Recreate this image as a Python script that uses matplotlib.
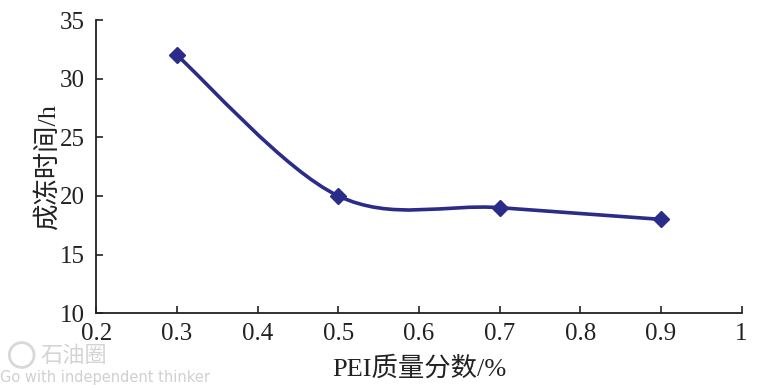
import matplotlib
matplotlib.use("Agg")
import matplotlib.pyplot as plt
from matplotlib.path import Path
from matplotlib.patches import PathPatch, Ellipse

# data
pei = [0.3, 0.5, 0.7, 0.9]
hours = [32, 20, 19, 18]
xticks = [0.2, 0.3, 0.4, 0.5, 0.6, 0.7, 0.8, 0.9, 1]
xticklabels = ['0.2', '0.3', '0.4', '0.5', '0.6', '0.7', '0.8', '0.9', '1']
yticks = [10, 15, 20, 25, 30, 35]

plt.rcParams['font.family'] = ['Liberation Serif', 'Noto Sans CJK SC']
navy = '#2b2b8a'
ink = '#222222'


def smooth_path(xs, ys):
    # excel-style smoothed line: cubic bezier segments through the points
    pts = list(zip(xs, ys))
    n = len(pts)
    verts = [pts[0]]
    codes = [Path.MOVETO]
    for i in range(n - 1):
        p0 = pts[i - 1] if i > 0 else pts[i]
        p1 = pts[i]
        p2 = pts[i + 1]
        p3 = pts[i + 2] if i + 2 < n else pts[i + 1]
        c1 = (p1[0] + (p2[0] - p0[0]) / 6, p1[1] + (p2[1] - p0[1]) / 6)
        c2 = (p2[0] - (p3[0] - p1[0]) / 6, p2[1] - (p3[1] - p1[1]) / 6)
        verts += [c1, c2, p2]
        codes += [Path.CURVE4] * 3
    return Path(verts, codes)


fig = plt.figure(figsize=(7.75, 3.88), dpi=100)
ax = fig.add_axes([0.1243, 0.193, 0.8326, 0.755])

ax.add_patch(PathPatch(smooth_path(pei, hours), facecolor='none',
                       edgecolor=navy, lw=2.6, zorder=2))
ax.plot(pei, hours, linestyle='none', marker='D', ms=8.5, color=navy, zorder=3)

ax.set_xlim(0.2, 1)
ax.set_ylim(10, 35)
ax.set_xticks(xticks)
ax.set_xticklabels(xticklabels)
ax.set_yticks(yticks)
ax.tick_params(direction='in', length=5, width=1.2, labelsize=18, colors=ink)
ax.tick_params(axis='x', pad=7)
ax.tick_params(axis='y', pad=8)
ax.spines['top'].set_visible(False)
ax.spines['right'].set_visible(False)
for s in ['left', 'bottom']:
    ax.spines[s].set_linewidth(1.3)
    ax.spines[s].set_color(ink)

ax.set_xlabel('PEI质量分数/%', fontsize=19, labelpad=8, color=ink)
ax.set_ylabel('成冻时间/h', fontsize=19, labelpad=0.5, color=ink)

# watermark
fig.patches.append(Ellipse((0.028, 0.085), 0.032, 0.064, transform=fig.transFigure,
                           facecolor='none', edgecolor='#d8d8d8', lw=2))
fig.text(0.052, 0.085, '石油圈', fontsize=16, color='#d4d4d4', va='center',
         family='Noto Sans CJK SC')
fig.text(0.0, 0.028, 'Go with independent thinker', fontsize=10.5, color='#d0d0d0',
         va='center', family='DejaVu Sans')

fig.savefig('out.png', dpi=100)
